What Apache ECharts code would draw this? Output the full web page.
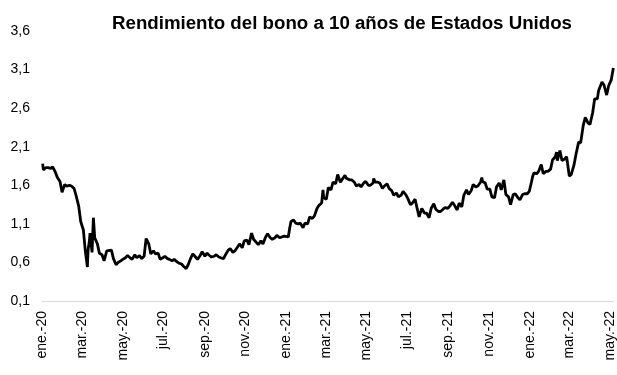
<!DOCTYPE html>
<html><head><meta charset="utf-8">
<script src="https://cdn.jsdelivr.net/npm/echarts@6/dist/echarts.min.js"></script>
<style>html,body{margin:0;padding:0;background:#fff}#c{width:617px;height:375px}</style>
</head><body><div id="c"></div><script>
const titleText = 'Rendimiento del bono a 10 años de Estados Unidos';
const dates = [
'2020-01-02','2020-01-03','2020-01-07','2020-01-10','2020-01-14','2020-01-17','2020-01-21','2020-01-24','2020-01-28','2020-01-31',
'2020-02-04','2020-02-07','2020-02-11','2020-02-14','2020-02-18','2020-02-21','2020-02-25','2020-02-28',
'2020-03-03','2020-03-06','2020-03-09','2020-03-10','2020-03-12','2020-03-13','2020-03-16','2020-03-18','2020-03-20','2020-03-24','2020-03-27','2020-03-31',
'2020-04-03','2020-04-07','2020-04-09','2020-04-14','2020-04-17','2020-04-21','2020-04-24','2020-04-28',
'2020-05-01','2020-05-05','2020-05-08','2020-05-12','2020-05-15','2020-05-19','2020-05-22','2020-05-26','2020-05-29',
'2020-06-02','2020-06-05','2020-06-09','2020-06-12','2020-06-16','2020-06-19','2020-06-23','2020-06-26','2020-06-30',
'2020-07-03','2020-07-07','2020-07-10','2020-07-14','2020-07-17','2020-07-21','2020-07-24','2020-07-28','2020-07-31',
'2020-08-04','2020-08-07','2020-08-11','2020-08-14','2020-08-18','2020-08-21','2020-08-25','2020-08-28',
'2020-09-01','2020-09-04','2020-09-08','2020-09-11','2020-09-15','2020-09-18','2020-09-22','2020-09-25','2020-09-29',
'2020-10-02','2020-10-06','2020-10-09','2020-10-13','2020-10-16','2020-10-20','2020-10-23','2020-10-27','2020-10-30',
'2020-11-03','2020-11-06','2020-11-10','2020-11-13','2020-11-17','2020-11-20','2020-11-24','2020-11-27',
'2020-12-01','2020-12-04','2020-12-08','2020-12-11','2020-12-15','2020-12-18','2020-12-22','2020-12-24','2020-12-29','2020-12-31',
'2021-01-04','2021-01-06','2021-01-08','2021-01-12','2021-01-15','2021-01-19','2021-01-22','2021-01-26','2021-01-29',
'2021-02-02','2021-02-05','2021-02-09','2021-02-12','2021-02-16','2021-02-19','2021-02-23','2021-02-25','2021-02-26',
'2021-03-02','2021-03-05','2021-03-09','2021-03-12','2021-03-16','2021-03-19','2021-03-23','2021-03-26','2021-03-30',
'2021-04-01','2021-04-06','2021-04-09','2021-04-13','2021-04-16','2021-04-20','2021-04-23','2021-04-27','2021-04-30',
'2021-05-04','2021-05-07','2021-05-11','2021-05-12','2021-05-14','2021-05-18','2021-05-21','2021-05-25','2021-05-28',
'2021-06-01','2021-06-04','2021-06-08','2021-06-11','2021-06-15','2021-06-18','2021-06-22','2021-06-25','2021-06-29',
'2021-07-02','2021-07-06','2021-07-09','2021-07-13','2021-07-16','2021-07-19','2021-07-23','2021-07-27','2021-07-30',
'2021-08-03','2021-08-06','2021-08-10','2021-08-13','2021-08-17','2021-08-20','2021-08-24','2021-08-27','2021-08-31',
'2021-09-03','2021-09-07','2021-09-10','2021-09-14','2021-09-17','2021-09-21','2021-09-24','2021-09-28',
'2021-10-01','2021-10-05','2021-10-08','2021-10-12','2021-10-15','2021-10-19','2021-10-21','2021-10-22','2021-10-26','2021-10-29',
'2021-11-02','2021-11-05','2021-11-09','2021-11-12','2021-11-16','2021-11-19','2021-11-23','2021-11-26','2021-11-30',
'2021-12-03','2021-12-07','2021-12-10','2021-12-14','2021-12-17','2021-12-21','2021-12-24','2021-12-28','2021-12-31',
'2022-01-03','2022-01-05','2022-01-07','2022-01-11','2022-01-14','2022-01-18','2022-01-21','2022-01-25','2022-01-28',
'2022-02-01','2022-02-04','2022-02-08','2022-02-10','2022-02-11','2022-02-15','2022-02-18','2022-02-22','2022-02-25',
'2022-03-01','2022-03-04','2022-03-08','2022-03-11','2022-03-15','2022-03-18','2022-03-22','2022-03-25','2022-03-29',
'2022-04-01','2022-04-05','2022-04-08','2022-04-12','2022-04-14','2022-04-19','2022-04-22','2022-04-26','2022-04-29',
'2022-05-03','2022-05-06'
];
const yields = [
1.88,1.80,1.83,1.83,1.82,1.84,1.77,1.70,1.65,1.51,
1.61,1.59,1.60,1.59,1.56,1.47,1.33,1.13,
1.02,0.74,0.54,0.76,0.88,0.98,0.73,1.18,0.92,0.84,0.72,0.70,
0.62,0.75,0.73,0.76,0.65,0.57,0.60,0.62,
0.64,0.66,0.69,0.66,0.64,0.70,0.66,0.69,0.65,
0.68,0.91,0.84,0.71,0.75,0.71,0.72,0.64,0.66,
0.68,0.65,0.64,0.62,0.64,0.61,0.59,0.58,0.55,
0.52,0.57,0.66,0.71,0.67,0.64,0.69,0.74,
0.68,0.72,0.69,0.67,0.68,0.70,0.67,0.66,0.65,
0.70,0.76,0.78,0.73,0.75,0.80,0.84,0.79,0.88,
0.89,0.83,0.98,0.90,0.86,0.83,0.88,0.84,
0.93,0.97,0.92,0.90,0.92,0.95,0.92,0.94,0.94,0.93,
0.93,1.04,1.13,1.15,1.11,1.10,1.11,1.05,1.11,
1.10,1.19,1.17,1.20,1.30,1.34,1.37,1.54,1.44,
1.42,1.57,1.54,1.64,1.62,1.74,1.64,1.68,1.73,
1.69,1.67,1.67,1.64,1.59,1.61,1.58,1.63,1.65,
1.60,1.60,1.63,1.69,1.64,1.64,1.63,1.56,1.59,
1.62,1.56,1.53,1.47,1.50,1.45,1.47,1.52,1.48,
1.43,1.35,1.37,1.42,1.30,1.19,1.30,1.24,1.24,
1.18,1.30,1.36,1.29,1.26,1.26,1.29,1.31,1.30,
1.33,1.38,1.34,1.28,1.37,1.32,1.47,1.54,
1.48,1.53,1.61,1.58,1.59,1.64,1.70,1.65,1.63,1.55,
1.55,1.45,1.44,1.58,1.63,1.54,1.67,1.48,1.45,
1.35,1.48,1.49,1.44,1.41,1.48,1.49,1.49,1.52,
1.63,1.71,1.76,1.75,1.78,1.87,1.75,1.78,1.78,
1.81,1.93,1.97,2.03,1.92,2.05,1.92,1.94,1.97,
1.72,1.74,1.86,2.00,2.16,2.15,2.38,2.48,2.41,
2.39,2.54,2.72,2.72,2.83,2.94,2.90,2.77,2.89,
2.97,3.12
];
const tickDates = ['2020-01-01','2020-03-01','2020-05-01','2020-07-01','2020-09-01','2020-11-01',
'2021-01-01','2021-03-01','2021-05-01','2021-07-01','2021-09-01','2021-11-01',
'2022-01-01','2022-03-01','2022-05-01'];
const tickLabels = ['ene.-20','mar.-20','may.-20','jul.-20','sep.-20','nov.-20',
'ene.-21','mar.-21','may.-21','jul.-21','sep.-21','nov.-21',
'ene.-22','mar.-22','may.-22'];
const yMin = 0.1, yMax = 3.6, yStep = 0.5;
const xStart = '2020-01-01', xEnd = '2022-05-06';

const DAY = 86400000;
const dayIndex = s => Math.round((Date.UTC(+s.slice(0,4), +s.slice(5,7) - 1, +s.slice(8,10)) - Date.UTC(2020, 0, 1)) / DAY);
const tickPos = tickDates.map(dayIndex);
const labelMap = {};
tickPos.forEach((t, i) => { labelMap[t] = tickLabels[i]; });
const seriesData = dates.map((d, i) => [dayIndex(d), yields[i]]);
const font = '"Liberation Sans", Arial, Helvetica, sans-serif';

const chart = echarts.init(document.getElementById('c'), null, {renderer: 'canvas'});
chart.setOption({
  animation: false,
  backgroundColor: '#ffffff',
  title: {
    text: titleText, left: 107, top: 9,
    textStyle: {fontFamily: font, fontSize: 18.7, fontWeight: 'bold', color: '#000'}
  },
  grid: {left: 42, right: 1.5, top: 31, bottom: 74, containLabel: false},
  xAxis: {
    type: 'value', min: dayIndex(xStart), max: dayIndex(xEnd),
    axisLine: {show: true, lineStyle: {color: '#d9d9d9', width: 1}},
    axisTick: {show: false},
    splitLine: {show: false},
    axisLabel: {
      customValues: tickPos, rotate: 90, margin: 10,
      fontFamily: font, fontSize: 14, color: '#000',
      hideOverlap: false, showMinLabel: true, showMaxLabel: true,
      formatter: v => labelMap[v] !== undefined ? labelMap[v] : ''
    }
  },
  yAxis: {
    type: 'value', min: yMin, max: yMax, interval: yStep,
    axisLine: {show: false}, axisTick: {show: false}, splitLine: {show: false},
    axisLabel: {
      margin: 12, fontFamily: font, fontSize: 14, color: '#000',
      formatter: v => v.toFixed(1).replace('.', ',')
    }
  },
  series: [{
    type: 'line', data: seriesData, showSymbol: false, smooth: false,
    lineStyle: {color: '#000', width: 2.8}, clip: false
  }]
});
</script></body></html>
